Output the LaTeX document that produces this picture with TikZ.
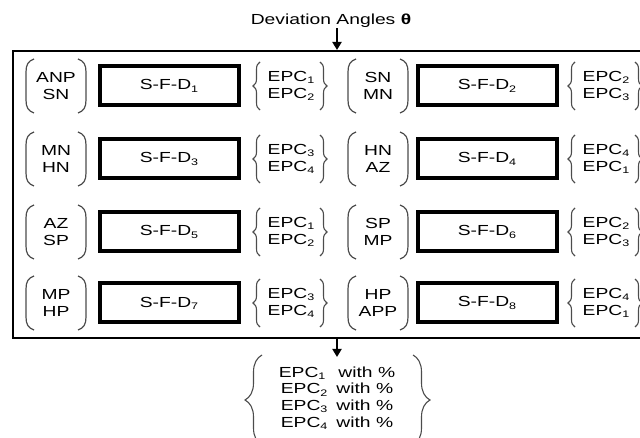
\documentclass[tikz,border=0pt]{standalone}
\usepackage{fontspec}
\setmainfont{Liberation Sans}[FakeStretch=1.32]
\usetikzlibrary{arrows.meta,decorations.pathreplacing}
\newcommand\lsub[1]{\raisebox{-0.15em}{\fontsize{9.5}{9.5}\selectfont #1}}
\begin{document}
\begin{tikzpicture}[x=1pt,y=-1pt,
  txt/.style={font=\fontsize{14.6}{16.7}\selectfont, inner sep=0pt, align=center},
  sfd/.style={draw, line width=4pt, minimum width=139pt, minimum height=39pt, inner sep=0pt, font=\fontsize{14.6}{16.7}\selectfont},
  frame/.style={draw, line width=2.2pt, anchor=north west, minimum width=640pt, minimum height=287pt, inner sep=0pt},
  paren/.style={draw=gray!60!black, line width=1.2pt},
  brc/.style={draw=gray!60!black, line width=1.1pt, decorate, decoration={brace, amplitude=7pt}},
  bigbrc/.style={draw=gray!60!black, line width=1.1pt, decorate, decoration={brace, amplitude=17pt}},
  arr/.style={line width=1.9pt, -{Triangle[width=9pt,length=8pt]}}]
\useasboundingbox (0,0) rectangle (640,438);
\clip (0,0) rectangle (640,438);
\node[txt, anchor=base] (title) at (331,25) {Deviation Angles \textbf{θ}};
\node[frame] (outer) at (12,50) {};
\draw[arr] ([xshift=6pt]title.south) -- ([xshift=6pt]title.south |- outer.north);
\foreach \i/\pc/\bc/\ec/\y/\la/\lb/\ea/\eb in {
 1/56/169/291/86/ANP/SN/1/2,
 2/378/487/606/86/SN/MN/2/3,
 3/56/169/291/159/MN/HN/3/4,
 4/378/487/606/159/HN/AZ/4/1,
 5/56/169/291/232/AZ/SP/1/2,
 6/378/487/606/232/SP/MP/2/3,
 7/56/169/291/303/MP/HP/3/4,
 8/378/487/606/303/HP/APP/4/1}
{
 \node[txt] (p\i) at (\pc,\y) {\la\\\lb};
 \node[sfd] (s\i) at (\bc,\y) {S-F-D\lsub{\i}};
 \node[txt] (e\i) at (\ec,\y) {EPC\lsub{\ea}\\EPC\lsub{\eb}};
 \draw[paren] ({\pc-22},{\y-27}) .. controls ({\pc-28},{\y-25}) and ({\pc-30},{\y-21}) .. ({\pc-30},{\y-14}) -- ({\pc-30},{\y+14}) .. controls ({\pc-30},{\y+21}) and ({\pc-28},{\y+25}) .. ({\pc-22},{\y+27});
 \draw[paren] ({\pc+22},{\y-27}) .. controls ({\pc+28},{\y-25}) and ({\pc+30},{\y-21}) .. ({\pc+30},{\y-14}) -- ({\pc+30},{\y+14}) .. controls ({\pc+30},{\y+21}) and ({\pc+28},{\y+25}) .. ({\pc+22},{\y+27});
 \draw[brc] ({\ec-31},{\y+24}) -- ({\ec-31},{\y-24});
 \draw[brc] ({\ec+29},{\y-24}) -- ({\ec+29},{\y+24});
}
\coordinate (rtop) at (337,357);
\draw[arr] (outer.south -| rtop) -- (rtop);
\node[txt] (res) at (337,398) {EPC\lsub{1}\hspace{13pt}with \%\\EPC\lsub{2}\hspace{9pt}with \%\\EPC\lsub{3}\hspace{9pt}with \%\\EPC\lsub{4}\hspace{9pt}with \%};
\draw[bigbrc] (262,445) -- (262,355);
\draw[bigbrc] (413,355) -- (413,445);
\end{tikzpicture}
\end{document}
